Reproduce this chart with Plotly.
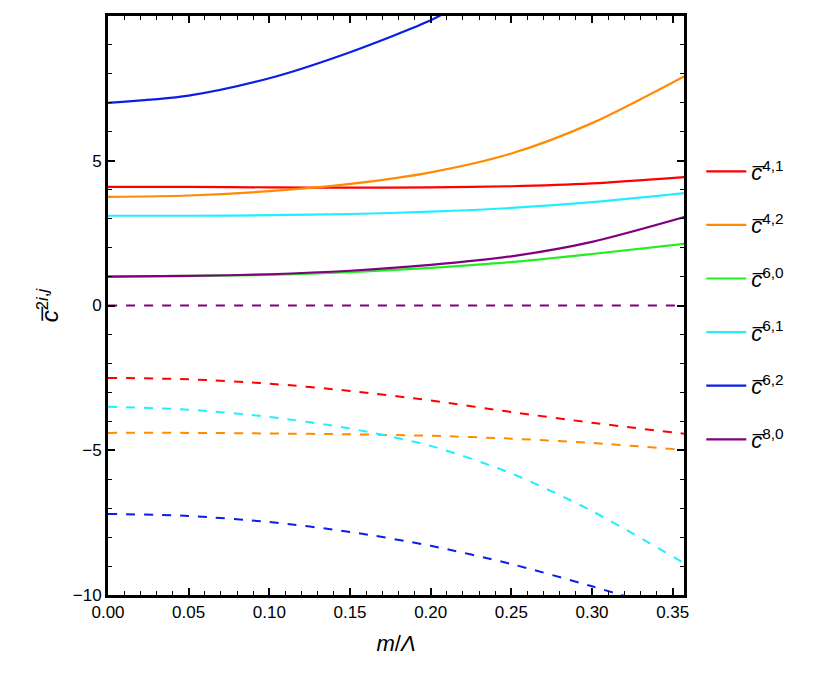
import plotly.graph_objects as go

x = [0.0, 0.05, 0.10, 0.15, 0.20, 0.25, 0.30, 0.36]

# solid curves
c41 = [4.1, 4.1, 4.08, 4.07, 4.08, 4.12, 4.22, 4.45]
c42 = [3.75, 3.8, 3.95, 4.2, 4.6, 5.25, 6.3, 8.0]
c60 = [1.0, 1.02, 1.06, 1.15, 1.3, 1.5, 1.78, 2.15]
c61 = [3.1, 3.1, 3.12, 3.16, 3.24, 3.37, 3.57, 3.9]
x62 = [0.0, 0.05, 0.10, 0.15, 0.20, 0.215]
c62 = [7.0, 7.25, 7.85, 8.75, 9.85, 10.3]
c80 = [1.0, 1.02, 1.08, 1.2, 1.4, 1.7, 2.2, 3.1]

# dashed curves
d41 = [-2.5, -2.55, -2.7, -2.95, -3.28, -3.68, -4.05, -4.45]
d42 = [-4.4, -4.4, -4.42, -4.45, -4.5, -4.6, -4.75, -5.0]
d61 = [-3.5, -3.6, -3.85, -4.25, -4.85, -5.8, -7.1, -9.0]
xd62 = [0.0, 0.05, 0.10, 0.15, 0.20, 0.25, 0.30, 0.33]
d62 = [-7.2, -7.27, -7.48, -7.82, -8.3, -8.93, -9.7, -10.2]
d80 = [0, 0, 0, 0, 0, 0, 0, 0]

names = ["4,1", "4,2", "6,0", "6,1", "6,2", "8,0"]
colors = ["#ff0000", "#ff8c00", "#22ee22", "#22eeff", "#0a1ee6", "#800080"]
solid = [(x, c41), (x, c42), (x, c60), (x, c61), (x62, c62), (x, c80)]
dashed = [(x, d41), (x, d42), (x, d61), (xd62, d62), (x, d80)]
dcolors = [colors[0], colors[1], colors[3], colors[4], colors[5]]

fig = go.Figure()
for (xs, ys), col, nm in zip(solid, colors, names):
    fig.add_trace(go.Scatter(x=xs, y=ys, mode="lines", line=dict(color=col, width=2.2, shape="spline", smoothing=0.8),
                             name=f"<i>c̅</i><sup>{nm}</sup>", legendgroup=nm))
for (xs, ys), col in zip(dashed, dcolors):
    fig.add_trace(go.Scatter(x=xs, y=ys, mode="lines",
                             line=dict(color=col, width=2, dash="dash", shape="spline", smoothing=0.8),
                             showlegend=False))

axis = dict(showline=True, linecolor="black", linewidth=3, mirror="allticks", ticks="inside",
            ticklen=7, tickwidth=1.5, tickcolor="black", showgrid=False, zeroline=False,
            tickfont=dict(size=17, color="black"),
            minor=dict(ticks="inside", ticklen=4, tickwidth=1, tickcolor="black"))
fig.update_xaxes(axis, range=[0, 0.357], dtick=0.05, tickformat=".2f", minor_dtick=0.01,
                 title=dict(text="<i>m</i>/<i>Λ</i>", font=dict(size=22)))
fig.update_yaxes(axis, range=[-10, 10], dtick=5, minor_dtick=1,
                 title=dict(text="<i>c̅</i><sup>2<i>i</i>,<i>j</i></sup>", font=dict(size=24), standoff=8))

fig.update_layout(width=822, height=679, plot_bgcolor="white", paper_bgcolor="white",
                  font=dict(family="Liberation Sans", color="black"),
                  margin=dict(l=100, r=146, t=8, b=92, autoexpand=False),
                  legend=dict(x=1.03, y=0.5, yanchor="middle", font=dict(size=22),
                              tracegroupgap=22, itemwidth=40))
fig.write_html("out.html")
